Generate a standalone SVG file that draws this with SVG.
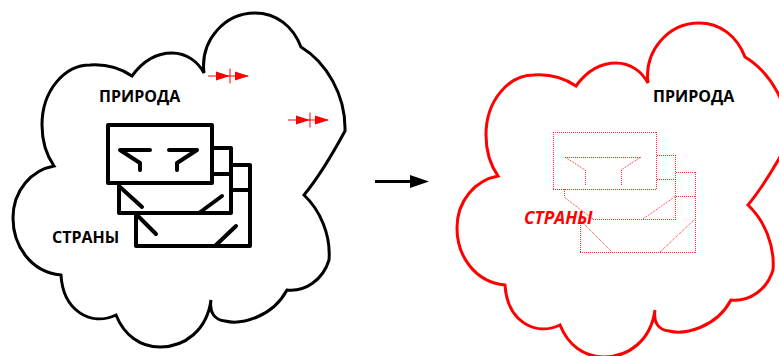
<svg xmlns="http://www.w3.org/2000/svg" xmlns:xlink="http://www.w3.org/1999/xlink" width="779" height="356" viewBox="0 0 779 356">
<style>
.cloud{fill:none;stroke-width:3;stroke-linejoin:miter}
.blk{fill:none;stroke:#000;stroke-width:4;stroke-linejoin:round;stroke-linecap:round}
.dot{fill:none;stroke:#f00;stroke-width:1;stroke-dasharray:1 1;stroke-opacity:.85}
.t{font-family:"Open Sans","Noto Sans",sans-serif;font-weight:700;font-size:16px;fill:#000}
.red{fill:#f00;font-style:italic;font-size:17.300px}
</style>
<defs>
<path id="c" d="M204,73C200,40 225,13 255,13C276,13 293,26 301,47C326,62 346,95 345,131C332,155 318,178 304,195C320,210 331,235 329,260C323,280 305,292 287,290C272,318 240,325 225,321C215,320 209,313 211,300C207,330 185,347 160,347C140,347 124,335 116,315C90,327 63,310 61,275C30,272 13,245 13,218C13,190 32,170 54,166C45,153 42,140 42,125C42,90 65,65 90,65C105,64 120,68 132,76C145,58 160,53 172,53C187,53 198,62 204,73Z"/>
<g id="ra"><path d="M0,0H40M22,-7.500V7.500" stroke="#f00" stroke-width="1" fill="none"/><path d="M8,-4.500L22,0L8,4.500ZM27,-4.500L41,0L27,4.500Z" fill="#f00"/></g>
<marker id="ah" markerUnits="userSpaceOnUse" markerWidth="20" markerHeight="14" refX="2" refY="7" orient="auto"><path d="M0,0.500L19,7L0,13.500Z" fill="#000"/></marker>
</defs>
<g id="cloud-left"><use xlink:href="#c" href="#c" class="cloud" stroke="#000"/></g>
<g id="cloud-right"><use xlink:href="#c" href="#c" x="444" y="10" class="cloud" stroke="#f00"/></g>
<g id="countries-left">
<path class="blk" d="M212,148H231V213H119V183M212,174H231M231,165H250V246H136V213M231,190H250M120,187L142,207M199,213L222,196M137,215L156,234M215,246L236,226"/>
<rect class="blk" x="108" y="125" width="104" height="58"/>
<path class="blk" d="M150,150H120L140,163V170M169,150H197L177,163V170"/>
</g>
<g id="countries-right">
<path class="dot" d="M553,132.500H657M553,189.500H657M553.500,132V190M656.500,132V190"/>
<path class="dot" d="M565,157.500H641M641,157L621,170M621.500,170V186M565,157L585,170M585.500,170V186"/>
<path class="dot" d="M657,155.500H676M657,179.500H676M675.500,155V220M593,219.500H676M593,219L564,197M564.500,189V197"/>
<path class="dot" d="M676,172.500H696M676,196.500H696M695.500,172V253M580,252.500H696M580.500,219V253"/>
<path class="dot" d="M643,219L676,196M582,222L612,252M660,252L695,219"/>
</g>
<g id="label-nature-left"><text class="t" x="99" y="102">ПРИРОДА</text></g>
<g id="label-countries-left"><text class="t" x="52" y="243">СТРАНЫ</text></g>
<g id="label-nature-right"><text class="t" x="653" y="102">ПРИРОДА</text></g>
<g id="label-countries-right"><text class="t red" x="524" y="224">СТРАНЫ</text></g>
<g id="connectors">
<line x1="375" y1="181.500" x2="412" y2="181.500" stroke="#000" stroke-width="3" marker-end="url(#ah)"/>
<use xlink:href="#ra" href="#ra" x="208" y="76"/>
<use xlink:href="#ra" href="#ra" x="288" y="120"/>
</g>
</svg>
